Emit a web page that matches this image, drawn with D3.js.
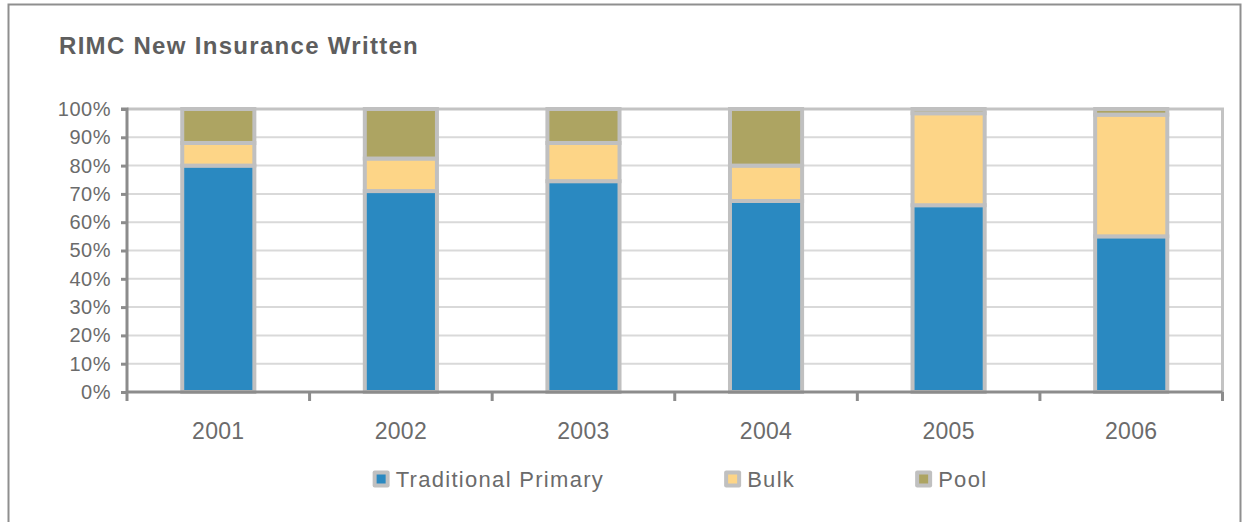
<!DOCTYPE html>
<html>
<head>
<meta charset="utf-8">
<script src="https://cdn.jsdelivr.net/npm/d3@7"></script>
<style>
  html, body { margin: 0; padding: 0; background: #ffffff; }
  svg { display: block; font-family: "Liberation Sans", Arial, sans-serif; }
</style>
</head>
<body>
<svg id="chart" width="1244" height="522"></svg>
<script>
// RIMC new insurance written, share of each channel by year (percent)
const years = ["2001", "2002", "2003", "2004", "2005", "2006"];
const traditionalPrimary = [80, 71, 74.5, 67.5, 66, 55];
const bulk = [8, 11.5, 13.5, 12.5, 32.5, 43];
const pool = [12, 17.5, 12, 20, 1.5, 2];
const seriesNames = ["Traditional Primary", "Bulk", "Pool"];
const seriesColors = ["#2a89c1", "#fdd587", "#ada462"];
const yTicks = [0, 10, 20, 30, 40, 50, 60, 70, 80, 90, 100];
const title = "RIMC New Insurance Written";

const svg = d3.select("#chart");
const W = 1244, H = 522;
const margin = { left: 127, top: 109, right: 21.5, bottom: 130 };
const plotW = W - margin.left - margin.right;
const plotH = H - margin.top - margin.bottom;

// outer frame of the chart
svg.append("rect")
  .attr("x", 8.5).attr("y", 4.5)
  .attr("width", 1232).attr("height", 540)
  .attr("fill", "#fff").attr("stroke", "#8f8f8f").attr("stroke-width", 2);

svg.append("text")
  .attr("x", 59).attr("y", 54)
  .attr("fill", "#5e5e5e")
  .attr("font-size", 24).attr("font-weight", "bold")
  .attr("letter-spacing", 1.3)
  .text(title);

const g = svg.append("g").attr("transform", `translate(${margin.left},${margin.top})`);

const x = d3.scaleBand().domain(years).range([0, plotW])
  .paddingInner(0.605).paddingOuter(0.3025);
const y = d3.scaleLinear().domain([0, 100]).range([plotH, 0]);

// horizontal gridlines
g.append("g").selectAll("line")
  .data(yTicks.filter(t => t > 0 && t < 100))
  .join("line")
  .attr("x1", 0).attr("x2", plotW)
  .attr("y1", d => y(d)).attr("y2", d => y(d))
  .attr("stroke", "#d9d9d9").attr("stroke-width", 2);

// plot area border (top and right)
g.append("path")
  .attr("d", `M0,${y(100)}H${plotW}V${plotH}`)
  .attr("fill", "none").attr("stroke", "#c3c3c3").attr("stroke-width", 3);

// stacked bars
const rows = years.map((yr, i) => ({
  year: yr,
  "Traditional Primary": traditionalPrimary[i],
  "Bulk": bulk[i],
  "Pool": pool[i]
}));
const stack = d3.stack().keys(seriesNames)(rows);

g.append("g").selectAll("g")
  .data(stack)
  .join("g")
  .attr("fill", (d, i) => seriesColors[i])
  .selectAll("rect")
  .data(d => d)
  .join("rect")
  .attr("x", d => x(d.data.year))
  .attr("width", x.bandwidth())
  .attr("y", d => y(d[1]))
  .attr("height", d => y(d[0]) - y(d[1]))
  .attr("stroke", "#c0c0c0").attr("stroke-width", 4);

// y axis
const yAxis = g.append("g")
  .call(d3.axisLeft(y).tickValues(yTicks).tickFormat(d => d + "%").tickSize(6).tickPadding(10));
yAxis.select(".domain").attr("stroke", "#8c8c8c").attr("stroke-width", 3)
  .attr("d", `M-6,${y(100)}H0V${plotH}`);
yAxis.selectAll(".tick line").attr("stroke", "#8c8c8c").attr("stroke-width", 3);
yAxis.selectAll(".tick text")
  .attr("fill", "#6b6b6b").attr("font-size", 20).attr("letter-spacing", 0.5)
  .attr("font-family", "Liberation Sans, Arial, sans-serif");

// x axis: tick marks sit on the category boundaries
const xAxis = g.append("g").attr("transform", `translate(0,${plotH})`);
const step = x.step();
const boundaries = d3.range(years.length + 1).map(i => i * step);
xAxis.append("line")
  .attr("x1", 0).attr("x2", plotW).attr("y1", 0).attr("y2", 0)
  .attr("stroke", "#8c8c8c").attr("stroke-width", 3);
xAxis.selectAll("line.tk")
  .data(boundaries)
  .join("line").attr("class", "tk")
  .attr("x1", d => d).attr("x2", d => d)
  .attr("y1", 0).attr("y2", 9)
  .attr("stroke", "#8c8c8c").attr("stroke-width", 3);
xAxis.selectAll("text")
  .data(years)
  .join("text")
  .attr("x", d => x(d) + x.bandwidth() / 2)
  .attr("y", 47)
  .attr("text-anchor", "middle")
  .attr("fill", "#6b6b6b").attr("font-size", 23).attr("letter-spacing", 0.3)
  .text(d => d);

// legend
const legend = svg.append("g");
let cx = 0;
seriesNames.forEach((name, i) => {
  const item = legend.append("g").attr("transform", `translate(${cx},0)`);
  item.append("rect").attr("x", 0).attr("y", -8.5).attr("width", 17).attr("height", 17)
    .attr("rx", 2).attr("fill", "#c0c0c0");
  item.append("rect").attr("x", 4).attr("y", -4.5).attr("width", 9).attr("height", 9)
    .attr("fill", seriesColors[i]);
  const t = item.append("text").attr("x", 23).attr("y", 7.5)
    .attr("fill", "#6b6b6b").attr("font-size", 22).attr("letter-spacing", 1.3)
    .text(name);
  cx += 23 + t.node().getComputedTextLength() + 120;
});
const legendW = cx - 120;
legend.attr("transform", `translate(${680 - legendW / 2},479)`);
</script>
</body>
</html>
